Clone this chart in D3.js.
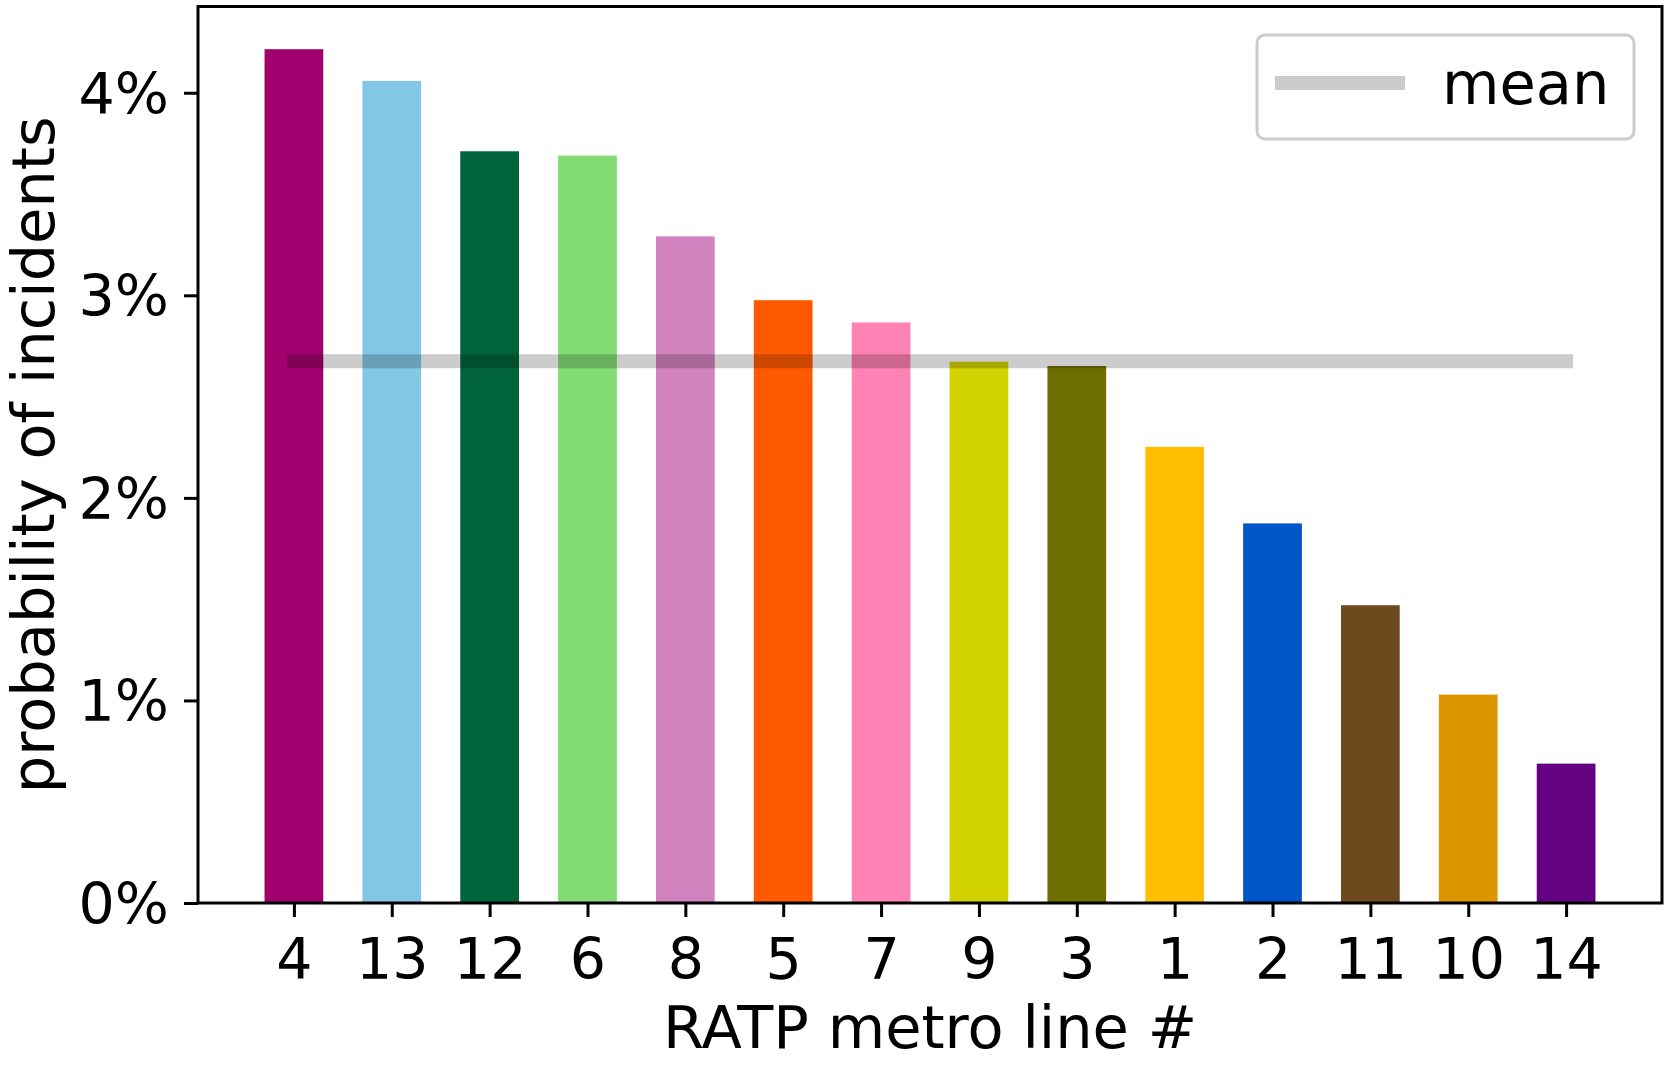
<!DOCTYPE html>
<html>
<head>
<meta charset="utf-8">
<script src="https://cdn.jsdelivr.net/npm/d3@7"></script>
<style>
  html, body { margin: 0; padding: 0; background: #ffffff; }
  svg { display: block; }
  text { font-family: "DejaVu Sans", sans-serif; fill: #000; }
</style>
</head>
<body>
<svg id="chart" width="1668" height="1066"></svg>
<script>
// ---- data ----
const lines = ["4", "13", "12", "6", "8", "5", "7", "9", "3", "1", "2", "11", "10", "14"];
const probabilities = [4.215, 4.058, 3.711, 3.690, 3.291, 2.976, 2.866, 2.672, 2.651, 2.252, 1.874, 1.470, 1.029, 0.688];
const lineColors = ["#a0006e", "#82c8e6", "#00643c", "#82dc73", "#d282be", "#ff5a00", "#ff82b4",
                    "#d2d200", "#6e6e00", "#ffbe00", "#0055c8", "#6e491e", "#dc9600", "#640082"];
const yTicks = [0, 1, 2, 3, 4];
const meanValue = d3.mean(probabilities);

// ---- layout ----
const W = 1668, H = 1066;
const plot = { left: 198, right: 1662, top: 6.5, bottom: 903 };
const tickFont = 57;
const labelFont = 59;
const barWidth = 0.6;

const svg = d3.select("#chart");

const n = lines.length;
const pad = barWidth / 2 + 0.05 * (n - 1 + barWidth);
const x = d3.scaleLinear().domain([-pad, n - 1 + pad]).range([plot.left, plot.right]);
const yMax = d3.max(probabilities) * 1.05;
const y = d3.scaleLinear().domain([0, yMax]).range([plot.bottom, plot.top]);

// bars
svg.append("g").selectAll("rect")
  .data(probabilities)
  .join("rect")
  .attr("x", (d, i) => x(i - barWidth / 2))
  .attr("width", (d, i) => x(i + barWidth / 2) - x(i - barWidth / 2))
  .attr("y", d => y(d))
  .attr("height", d => y(0) - y(d))
  .attr("fill", (d, i) => lineColors[i]);

// mean line
svg.append("line")
  .attr("x1", x(0)).attr("x2", x(n - 1))
  .attr("y1", y(meanValue)).attr("y2", y(meanValue))
  .attr("stroke", "#000").attr("stroke-opacity", 0.2)
  .attr("stroke-width", 14).attr("stroke-linecap", "square");

// axes
const xAxis = d3.axisBottom(x)
  .tickValues(d3.range(n))
  .tickFormat(i => lines[i])
  .tickSize(14).tickSizeOuter(0);
const gx = svg.append("g").attr("transform", `translate(0,${plot.bottom})`).call(xAxis);
gx.select(".domain").remove();
gx.selectAll(".tick line").attr("stroke", "#000").attr("stroke-width", 3);
gx.selectAll(".tick text").attr("y", 76).attr("dy", 0)
  .style("font-size", tickFont + "px").style("font-family", "DejaVu Sans");

const yAxis = d3.axisLeft(y)
  .tickValues(yTicks)
  .tickFormat(d => d + "%")
  .tickSize(14).tickSizeOuter(0).tickPadding(15);
const gy = svg.append("g").attr("transform", `translate(${plot.left},0)`).call(yAxis);
gy.select(".domain").remove();
gy.selectAll(".tick line").attr("stroke", "#000").attr("stroke-width", 3);
gy.selectAll(".tick text").attr("dy", "0.36em")
  .style("font-size", tickFont + "px").style("font-family", "DejaVu Sans");

// frame (spines)
svg.append("rect")
  .attr("x", plot.left).attr("y", plot.top)
  .attr("width", plot.right - plot.left).attr("height", plot.bottom - plot.top)
  .attr("fill", "none").attr("stroke", "#000").attr("stroke-width", 3);

// axis labels
svg.append("text")
  .attr("x", (plot.left + plot.right) / 2).attr("y", 1048)
  .attr("text-anchor", "middle")
  .style("font-size", labelFont + "px")
  .text("RATP metro line #");

svg.append("text")
  .attr("transform", `translate(54,${(plot.top + plot.bottom) / 2}) rotate(-90)`)
  .attr("text-anchor", "middle")
  .style("font-size", labelFont + "px")
  .text("probability of incidents");

// legend
const lg = svg.append("g");
lg.append("rect")
  .attr("x", 1257).attr("y", 35).attr("width", 377).attr("height", 104)
  .attr("rx", 8).attr("ry", 8)
  .attr("fill", "#fff").attr("fill-opacity", 0.8)
  .attr("stroke", "#cccccc").attr("stroke-width", 3);
lg.append("line")
  .attr("x1", 1275).attr("x2", 1405).attr("y1", 83).attr("y2", 83)
  .attr("stroke", "#000").attr("stroke-opacity", 0.2).attr("stroke-width", 14);
lg.append("text")
  .attr("x", 1442).attr("y", 104)
  .style("font-size", labelFont + "px")
  .text("mean");
</script>
</body>
</html>
